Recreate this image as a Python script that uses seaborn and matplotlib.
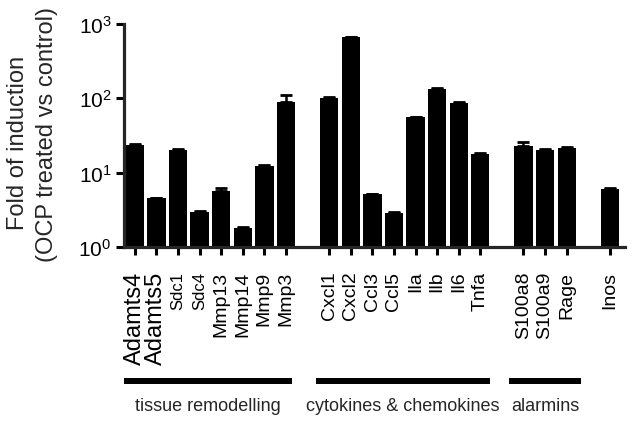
import numpy as np
import matplotlib
matplotlib.use("Agg")
import matplotlib.pyplot as plt
import matplotlib.transforms as mtransforms
from matplotlib.ticker import NullLocator
import seaborn as sns

# genes, grouped, with an empty slot between groups
genes = ['Adamts4', 'Adamts5', 'Sdc1', 'Sdc4', 'Mmp13', 'Mmp14', 'Mmp9', 'Mmp3',
         'Cxcl1', 'Cxcl2', 'Ccl3', 'Ccl5', 'Ila', 'Ilb', 'Il6', 'Tnfa',
         'S100a8', 'S100a9', 'Rage',
         'Inos']
slots = [0, 1, 2, 3, 4, 5, 6, 7,
         9, 10, 11, 12, 13, 14, 15, 16,
         18, 19, 20,
         22]
fold = [23.5, 4.5, 20.3, 3.0, 5.6, 1.8, 12.3, 90.0,
        102.0, 660.0, 5.1, 2.9, 55.5, 133.0, 87.0, 17.8,
        23.0, 20.3, 21.6,
        6.1]
err = [0.6, 0.1, 0.5, 0.05, 0.6, 0.04, 0.3, 20.0,
       3.0, 15.0, 0.1, 0.07, 1.2, 3.0, 2.0, 0.4,
       2.8, 0.5, 0.3,
       0.15]
groups = ['tissue remodelling', 'cytokines & chemokines', 'alarmins']
group_span = [(-0.5, 7.3), (8.4, 16.45), (17.35, 20.65)]

sns.set_style('ticks')
plt.rcParams['font.family'] = ['Liberation Sans', 'DejaVu Sans']

fig = plt.figure(figsize=(6.32, 4.27), dpi=100)
ax = fig.add_axes([0.1962, 0.4192, 0.7927, 0.5223])

sns.barplot(x=slots, y=fold, native_scale=True, color='black', width=0.85,
            edgecolor='black', linewidth=0, saturation=1, ax=ax)
ax.errorbar(slots, fold, yerr=[np.zeros(len(err)), err], fmt='none',
            ecolor='black', elinewidth=1.8, capsize=4, capthick=2)

ax.set_yscale('log')
ax.set_ylim(1, 1000)
ax.set_xlim(-0.5, 22.7)
ax.set_yticks([1, 10, 100, 1000])
ax.set_yticklabels([r'$\mathregular{10^{0}}$', r'$\mathregular{10^{1}}$',
                    r'$\mathregular{10^{2}}$', r'$\mathregular{10^{3}}$'], fontsize=15)
ax.yaxis.set_minor_locator(NullLocator())
ax.set_xticks(slots)
ax.set_xticklabels(genes, rotation=90, va='top', ha='center', fontsize=14)
for lab in ax.get_xticklabels():
    t = lab.get_text()
    if t.startswith('Adamts'):
        lab.set_fontsize(17)
    elif t.startswith('Sdc'):
        lab.set_fontsize(12)

sns.despine(ax=ax)
for s in ['left', 'bottom']:
    ax.spines[s].set_linewidth(2.3)
ax.tick_params(axis='both', width=2.2, length=6, color='black', labelcolor='black')
ax.tick_params(axis='y', pad=3)
ax.tick_params(axis='x', pad=11)
ax.set_xlabel('')
ax.set_ylabel('')
ax.grid(False)

fig.text(0.028, 1 - 143 / 427, 'Fold of induction', rotation=90,
         ha='center', va='center', fontsize=17)
fig.text(0.074, 1 - 135 / 427, '(OCP treated vs control)', rotation=90,
         ha='center', va='center', fontsize=17)

trans = mtransforms.blended_transform_factory(ax.transData, fig.transFigure)
for name, (x0, x1) in zip(groups, group_span):
    ax.plot([x0, x1], [1 - 382 / 427] * 2, color='black', lw=4.3,
            solid_capstyle='butt', transform=trans, clip_on=False)
    ax.text((x0 + x1) / 2, 1 - 407 / 427, name, transform=trans,
            ha='center', va='center', fontsize=13)

fig.savefig('out.png', dpi=100)
